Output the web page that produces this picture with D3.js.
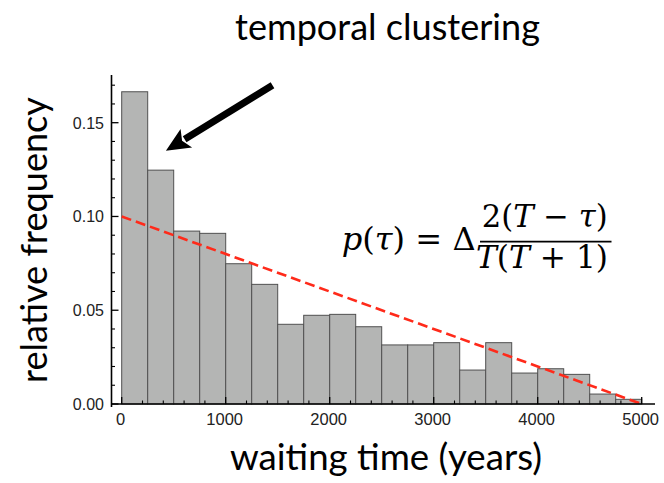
<!DOCTYPE html>
<html>
<head>
<meta charset="utf-8">
<script src="https://cdn.jsdelivr.net/npm/d3@7/dist/d3.min.js"></script>
<style>
  html, body { margin: 0; padding: 0; background: #fff; }
  svg { display: block; }
</style>
</head>
<body>
<svg id="chart" width="664" height="483"></svg>
<script>
// ---- data ----
const binStarts = [0, 250, 500, 750, 1000, 1250, 1500, 1750, 2000, 2250,
                   2500, 2750, 3000, 3250, 3500, 3750, 4000, 4250, 4500, 4750];
const binWidth = 250;
const frequencies = [0.1665, 0.1247, 0.0922, 0.0910, 0.0748, 0.0638, 0.0425, 0.0473, 0.0478, 0.0412,
                     0.0315, 0.0315, 0.0327, 0.0181, 0.0327, 0.0165, 0.0188, 0.0158, 0.0053, 0.0025];
const modelLine = [[0, 0.10], [5000, 0.0]];
const xTickValues = [0, 1000, 2000, 3000, 4000, 5000];
const xTickLabels = ["0", "1000", "2000", "3000", "4000", "5000"];
const yTickValues = [0, 0.05, 0.10, 0.15];
const yTickLabels = ["0.00", "0.05", "0.10", "0.15"];
const xMinorTicks = [200, 400, 600, 800, 1200, 1400, 1600, 1800, 2200, 2400, 2600, 2800,
                     3200, 3400, 3600, 3800, 4200, 4400, 4600, 4800];
const yMinorTicks = [0.01, 0.02, 0.03, 0.04, 0.06, 0.07, 0.08, 0.09, 0.11, 0.12, 0.13, 0.14, 0.16, 0.17];
const arrowTail = [1450, 0.170];
const arrowTip = [425, 0.135];
const titleText = "temporal clustering";
const xTitle = "waiting time (years)";
const yTitle = "relative frequency";

// ---- layout ----
const svg = d3.select("#chart");
const x = d3.scaleLinear().domain([0, 5000]).range([121.7, 641.7]);
const y = d3.scaleLinear().domain([0, 0.15]).range([404, 122.7]);
const axisLeftX = 111.5;

function fitText(sel, target) {
  const fs = parseFloat(sel.attr("font-size"));
  const w = sel.node().getComputedTextLength();
  if (w > 0) sel.attr("font-size", (fs * target / w).toFixed(2));
}

// bars
svg.append("g").selectAll("rect")
  .data(binStarts.map((b, i) => ({ b, v: frequencies[i] })))
  .join("rect")
  .attr("x", d => x(d.b))
  .attr("width", d => x(d.b + binWidth) - x(d.b))
  .attr("y", d => y(d.v))
  .attr("height", d => y(0) - y(d.v))
  .attr("fill", "#b4b5b4")
  .attr("stroke", "#505050")
  .attr("stroke-width", 1);

// red dashed model line
svg.append("path")
  .datum(modelLine)
  .attr("d", d3.line().x(d => x(d[0])).y(d => y(d[1])))
  .attr("fill", "none")
  .attr("stroke", "#ff2a1a")
  .attr("stroke-width", 2.6)
  .attr("stroke-dasharray", "10,5");

// axes lines
const axG = svg.append("g").attr("stroke", "#000");
axG.append("line").attr("x1", axisLeftX).attr("x2", axisLeftX)
  .attr("y1", y(0) + 3).attr("y2", 75).attr("stroke-width", 1.6);
axG.append("line").attr("x1", axisLeftX).attr("x2", 655)
  .attr("y1", y(0)).attr("y2", y(0)).attr("stroke-width", 1.6);

// y ticks (inward)
axG.selectAll(".ymaj").data(yTickValues).join("line")
  .attr("x1", axisLeftX).attr("x2", axisLeftX + 7)
  .attr("y1", d => y(d)).attr("y2", d => y(d)).attr("stroke-width", 1.3);
axG.selectAll(".ymin").data(yMinorTicks).join("line")
  .attr("x1", axisLeftX).attr("x2", axisLeftX + 3.5)
  .attr("y1", d => y(d)).attr("y2", d => y(d)).attr("stroke-width", 1.1);
// x ticks (inward)
axG.selectAll(".xmaj").data(xTickValues).join("line")
  .attr("x1", d => x(d)).attr("x2", d => x(d))
  .attr("y1", y(0)).attr("y2", y(0) - 7).attr("stroke-width", 1.3);
axG.selectAll(".xmin").data(xMinorTicks).join("line")
  .attr("x1", d => x(d)).attr("x2", d => x(d))
  .attr("y1", y(0)).attr("y2", y(0) - 3.5).attr("stroke-width", 1.1);

// tick labels
svg.append("g").selectAll("text").data(yTickValues).join("text")
  .attr("x", 104).attr("y", d => y(d) + 5.8)
  .attr("text-anchor", "end")
  .attr("font-family", "Liberation Sans, Arial, sans-serif")
  .attr("font-size", 16).attr("fill", "#222")
  .text((d, i) => yTickLabels[i]);
svg.append("g").selectAll("text").data(xTickValues).join("text")
  .attr("x", d => x(d) - 1).attr("y", 424.5)
  .attr("text-anchor", "middle")
  .attr("font-family", "Liberation Sans, Arial, sans-serif")
  .attr("font-size", 16.5).attr("fill", "#222")
  .text((d, i) => xTickLabels[i]);

// titles
const t1 = svg.append("text").attr("x", 387.5).attr("y", 39.5)
  .attr("text-anchor", "middle").attr("font-family", "Lato, Open Sans, sans-serif")
  .attr("font-size", 32).attr("fill", "#000").text(titleText);
fitText(t1, 305);
const t2 = svg.append("text").attr("x", 386).attr("y", 470)
  .attr("text-anchor", "middle").attr("font-family", "Lato, Open Sans, sans-serif")
  .attr("font-size", 32).attr("fill", "#000").text(xTitle);
fitText(t2, 312);
const t3 = svg.append("text")
  .attr("transform", "translate(46.5,240) rotate(-90)")
  .attr("text-anchor", "middle").attr("font-family", "Lato, Open Sans, sans-serif")
  .attr("font-size", 32).attr("fill", "#000").text(yTitle);
fitText(t3, 286);

// arrow annotation
(function () {
  const x1 = x(arrowTail[0]), y1 = y(arrowTail[1]);
  const x2 = x(arrowTip[0]), y2 = y(arrowTip[1]);
  const dx = x2 - x1, dy = y2 - y1, len = Math.hypot(dx, dy);
  const ux = dx / len, uy = dy / len, px = -uy, py = ux;
  const headLen = 24, headHalf = 11;
  const bx = x2 - ux * headLen, by = y2 - uy * headLen;
  svg.append("line").attr("x1", x1).attr("y1", y1)
    .attr("x2", bx + ux * 2).attr("y2", by + uy * 2)
    .attr("stroke", "#000").attr("stroke-width", 7);
  svg.append("path")
    .attr("d", `M${x2},${y2}L${bx + px * headHalf},${by + py * headHalf}L${bx + ux * 5},${by + uy * 5}L${bx - px * headHalf},${by - py * headHalf}Z`)
    .attr("fill", "#000");
})();

// formula
const mathFont = "DejaVu Serif, Liberation Serif, serif";
function stretch(sel, target) {
  sel.attr("textLength", target).attr("lengthAdjust", "spacingAndGlyphs");
}
const lhs = svg.append("text").attr("x", 341.7).attr("y", 250)
  .attr("font-family", mathFont).attr("font-size", 31).attr("fill", "#000");
lhs.append("tspan").attr("font-style", "italic").text("p");
lhs.append("tspan").text("(");
lhs.append("tspan").attr("font-style", "italic").text("τ");
lhs.append("tspan").text(") = Δ");
stretch(lhs, 134);
const num = svg.append("text").attr("x", 481.7).attr("y", 227)
  .attr("font-family", mathFont).attr("font-size", 31).attr("fill", "#000");
num.append("tspan").text("2(");
num.append("tspan").attr("font-style", "italic").text("T");
num.append("tspan").text(" − ");
num.append("tspan").attr("font-style", "italic").text("τ");
num.append("tspan").text(")");
stretch(num, 126);
const den = svg.append("text").attr("x", 476).attr("y", 268)
  .attr("font-family", mathFont).attr("font-size", 31).attr("fill", "#000");
den.append("tspan").attr("font-style", "italic").text("T");
den.append("tspan").text("(");
den.append("tspan").attr("font-style", "italic").text("T");
den.append("tspan").text(" + 1)");
stretch(den, 132);
svg.append("line").attr("x1", 480).attr("x2", 611.5)
  .attr("y1", 241.7).attr("y2", 241.7)
  .attr("stroke", "#000").attr("stroke-width", 1.8);
</script>
</body>
</html>
